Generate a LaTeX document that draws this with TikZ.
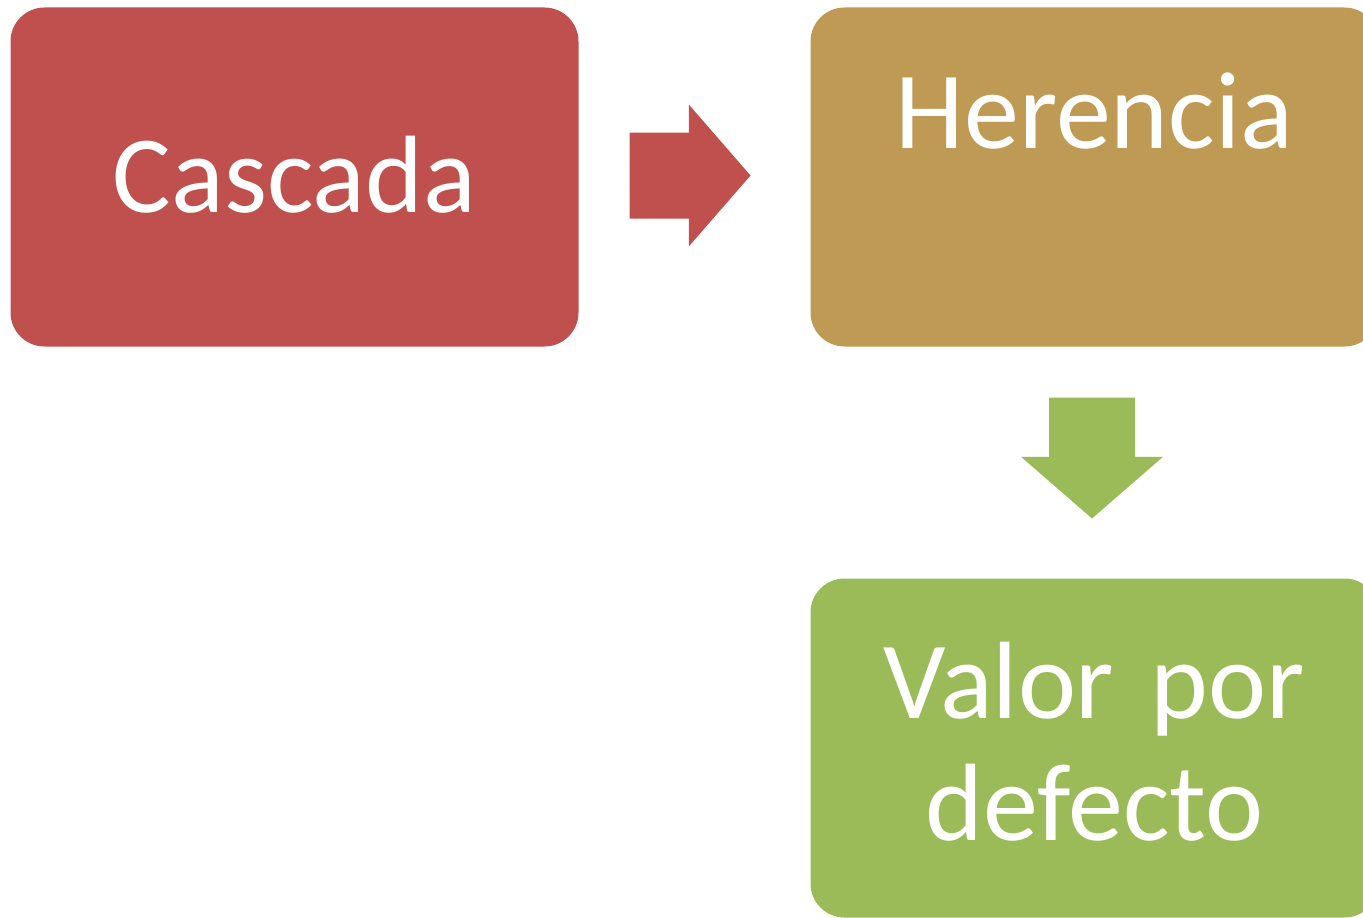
\documentclass[tikz,border=0pt]{standalone}
\usepackage{fontspec}
\setmainfont{Carlito}
\usetikzlibrary{shapes.arrows}

\definecolor{cascadared}{RGB}{192,80,77}
\definecolor{herenciatan}{RGB}{190,154,84}
\definecolor{defectogreen}{RGB}{155,187,89}
\newcommand{\boxfont}{\fontsize{82.5}{91.5}\selectfont}

\tikzset{every picture/.style={line width=0.75pt}}
\tikzset{
  stepbox/.style={rounded corners=25.5pt, inner sep=0pt, text width=426pt, align=center, text=white, font=\boxfont, anchor=north west},
  blockarrow/.style={single arrow, inner sep=0pt, inner ysep=31.875pt, minimum height=90.75pt, minimum width=105.75pt,
    single arrow head extend=21pt, single arrow tip angle=98, single arrow head indent=0pt, anchor=tail}
}

\begin{document}
\begin{tikzpicture}[x=0.75pt,y=0.75pt,yscale=-1,xscale=1]
\useasboundingbox (0,0) rectangle (1363,917);
\clip (0,0) rectangle (1363,917);

%Shape: Rounded Rect [Cascada]
\node (cascada) [stepbox, fill=cascadared, text height=153.75pt, text depth=100.5pt] at (10,7) {Cascada};
%Shape: Rounded Rect [Herencia]
\node (herencia) [stepbox, fill=herenciatan, text height=105.75pt, text depth=148.5pt] at (810,7) {Herencia};
%Shape: Rounded Rect [Valor por defecto]
\node (defecto) [stepbox, fill=defectogreen, text height=105pt, text depth=149.25pt] at (810,578) {Valor por\\defecto};

%Right Arrow
\node (flecha1) [blockarrow, fill=cascadared] at (629,175.5) {};
%Down Arrow
\node (flecha2) [blockarrow, fill=defectogreen, rotate=-90] at (1092,397) {};

\end{tikzpicture}
\end{document}
